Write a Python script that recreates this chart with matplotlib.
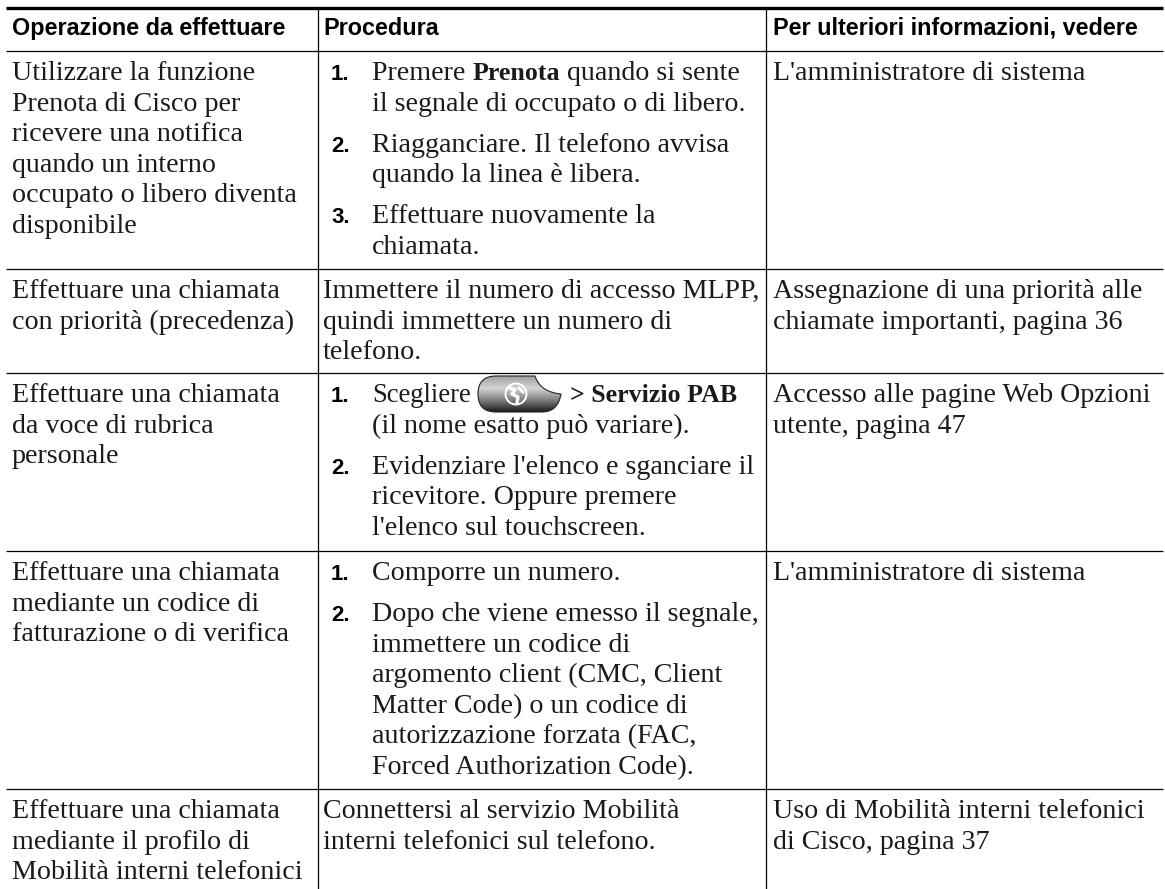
#!/usr/bin/env python

import matplotlib
matplotlib.use("Agg")
import matplotlib.pyplot as plt
import numpy as np
from matplotlib.colors import LinearSegmentedColormap
from matplotlib.patches import PathPatch
from matplotlib.path import Path

SERIF = "Liberation Serif"
HEAD = "Liberation Sans"

W, H = 1165, 889

col_x = [6, 318, 766, 1163]
row_y = [8, 51, 269, 373, 551, 789, 889]

headers = ["Operazione da effettuare", "Procedura", "Per ulteriori informazioni, vedere"]

col1 = [
    ["Utilizzare la funzione", "Prenota di Cisco per", "ricevere una notifica",
     "quando un interno", "occupato o libero diventa", "disponibile"],
    ["Effettuare una chiamata", "con priorità (precedenza)"],
    ["Effettuare una chiamata", "da voce di rubrica", "personale"],
    ["Effettuare una chiamata", "mediante un codice di", "fatturazione o di verifica"],
    ["Effettuare una chiamata", "mediante il profilo di", "Mobilità interni telefonici"],
]

col3 = [
    ["L'amministratore di sistema"],
    ["Assegnazione di una priorità alle", "chiamate importanti, pagina 36"],
    ["Accesso alle pagine Web Opzioni", "utente, pagina 47"],
    ["L'amministratore di sistema"],
    ["Uso di Mobilità interni telefonici", "di Cisco, pagina 37"],
]

# (row, number, lines) - bold words between **, @@ is the softkey
steps = [
    (0, "1.", ["Premere **Prenota** quando si sente", "il segnale di occupato o di libero."]),
    (0, "2.", ["Riagganciare. Il telefono avvisa", "quando la linea è libera."]),
    (0, "3.", ["Effettuare nuovamente la", "chiamata."]),
    (2, "1.", ["Scegliere@@**> Servizio PAB**", "(il nome esatto può variare)."]),
    (2, "2.", ["Evidenziare l'elenco e sganciare il", "ricevitore. Oppure premere", "l'elenco sul touchscreen."]),
    (3, "1.", ["Comporre un numero."]),
    (3, "2.", ["Dopo che viene emesso il segnale,", "immettere un codice di",
               "argomento client (CMC, Client", "Matter Code) o un codice di",
               "autorizzazione forzata (FAC,", "Forced Authorization Code)."]),
]
plain_col2 = {
    1: ["Immettere il numero di accesso MLPP,", "quindi immettere un numero di", "telefono."],
    4: ["Connettersi al servizio Mobilità", "interni telefonici sul telefono."],
}

LEAD = 30.6
SIZE = 20.2
BOLD_SIZE = 18.6
TOP = 29
STEP_GAP = 10.5

fig = plt.figure(figsize=(W / 100, H / 100), dpi=100)
ax = fig.add_axes([0, 0, 1, 1])
ax.set_xlim(0, W)
ax.set_ylim(H, 0)
ax.axis("off")

ax.plot([col_x[0], col_x[3]], [row_y[0]] * 2, color="black", lw=2.4, solid_capstyle="butt")
for y in row_y[1:-1]:
    ax.plot([col_x[0], col_x[3]], [y, y], color="black", lw=0.9, solid_capstyle="butt")
for x in col_x[1:3]:
    ax.plot([x, x], [row_y[0], H], color="black", lw=0.9, solid_capstyle="butt")

for x, t in zip([12, col_x[1] + 5, col_x[2] + 7], headers):
    ax.text(x, 35, t, family=HEAD, weight="bold", fontsize=16.8, va="baseline", color="black")

key_cmap = LinearSegmentedColormap.from_list("key", ["#a0a0a0", "#d4d4d4", "#808080", "#1c1c1c"])


def put(x, y, t, size=SIZE, **kw):
    return ax.text(x, y, t, family=SERIF, fontsize=size, va="baseline", color="#1a1a1a", **kw)


def draw_key(x, y):
    # softkey glyph: round left end, notch cut in the top right corner
    top, bot = y - 26, y + 10
    mid = (top + bot) / 2
    verts = [(x + 18, top), (x + 57, top),
             (x + 62, mid - 2), (x + 83, mid),
             (x + 80, bot), (x + 64, bot),
             (x + 18, bot),
             (x, bot), (x, mid),
             (x, top), (x + 18, top), (x + 18, top)]
    codes = [Path.MOVETO, Path.LINETO,
             Path.CURVE3, Path.CURVE3,
             Path.CURVE3, Path.CURVE3,
             Path.LINETO,
             Path.CURVE3, Path.CURVE3,
             Path.CURVE3, Path.CURVE3, Path.CLOSEPOLY]
    shape = PathPatch(Path(verts, codes), fc="none", ec="#222222", lw=0.8, zorder=2)
    ax.add_patch(shape)
    grad = np.linspace(0, 1, 64).reshape(-1, 1)
    im = ax.imshow(grad, cmap=key_cmap, extent=[x, x + 84, bot, top], aspect="auto", zorder=1)
    im.set_clip_path(shape)
    ax.set_xlim(0, W)
    ax.set_ylim(H, 0)
    cx, cy = x + 38, y - 8
    ax.add_patch(plt.Circle((cx, cy), 10.5, fill=False, ec="white", lw=1.4, zorder=3))
    ax.plot([cx - 6, cx - 1, cx - 4, cx + 2, cx + 1], [cy - 6, cy - 4, cy, cy + 3, cy + 9],
            color="white", lw=2.4, zorder=3)
    ax.plot([cx + 3, cx + 7], [cy - 6, cy - 2], color="white", lw=2, zorder=3)


def rich(x, y, line):
    start = x
    rend = fig.canvas.get_renderer()
    has_key = "@@" in line
    for i, part in enumerate(line.split("**")):
        if not part:
            continue
        bits = part.split("@@")
        for j, bit in enumerate(bits):
            if j:
                draw_key(start + 106, y)
                x = start + 198
            if bit:
                if i % 2:
                    tt = put(x, y, bit, size=BOLD_SIZE, weight="bold")
                elif has_key:
                    tt = put(x, y, bit, size=19.2)
                else:
                    tt = put(x, y, bit)
                x += tt.get_window_extent(rend).width


for r, lines in enumerate(col1):
    for i, t in enumerate(lines):
        put(12, row_y[r + 1] + TOP + i * LEAD, t)

for r, lines in enumerate(col3):
    for i, t in enumerate(lines):
        put(col_x[2] + 7, row_y[r + 1] + TOP + i * LEAD, t)

for r, lines in plain_col2.items():
    for i, t in enumerate(lines):
        put(col_x[1] + 5, row_y[r + 1] + TOP + i * LEAD, t)

cur = {}
for r, num, lines in steps:
    y = cur.get(r, row_y[r + 1] + TOP)
    ax.text(col_x[1] + 13, y, num, family=HEAD, weight="bold", fontsize=16, va="baseline", color="black")
    for i, t in enumerate(lines):
        rich(col_x[1] + 54, y + i * LEAD, t)
    cur[r] = y + len(lines) * LEAD + STEP_GAP

fig.savefig("out.png", dpi=100)
